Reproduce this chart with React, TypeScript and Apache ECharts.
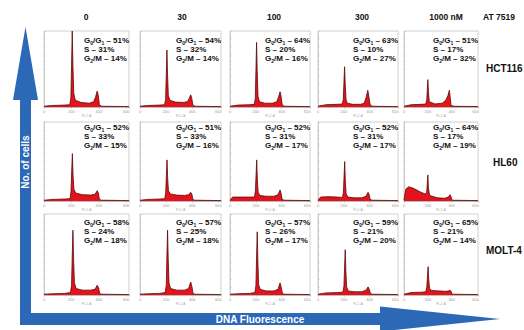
import React, { useEffect, useRef } from "react";
import * as echarts from "echarts";

// ---- data ----
const concentrations = ["0", "30", "100", "300", "1000 nM"];
const cellLines = ["HCT116", "HL60", "MOLT-4"];
const xTicks = [0, 200, 400, 600];

// [G0/G1 %, S %, G2/M %] per cell line, per concentration
const hct116Pct = [[51, 31, 14], [54, 32, 14], [64, 20, 16], [63, 10, 27], [51, 17, 32]];
const hl60Pct = [[52, 33, 15], [51, 33, 16], [52, 31, 17], [52, 31, 17], [64, 17, 19]];
const molt4Pct = [[58, 24, 18], [57, 25, 18], [57, 26, 17], [59, 21, 20], [65, 21, 14]];

// histograms: [DNA channel, relative cell count]
const hct116_0 = [[0,0.01],[60,0.02],[150,0.025],[188,0.03],[196,0.12],[201,0.55],[206,1.0],[211,0.55],[217,0.18],[228,0.09],[270,0.06],[330,0.05],[362,0.07],[376,0.13],[388,0.21],[396,0.15],[404,0.03],[420,0.01],[620,0.005]];
const hct116_30 = [[0,0.01],[60,0.02],[150,0.025],[188,0.03],[196,0.1],[201,0.42],[206,0.75],[211,0.42],[217,0.15],[228,0.09],[270,0.065],[330,0.06],[362,0.07],[376,0.11],[388,0.16],[396,0.12],[404,0.03],[420,0.01],[620,0.005]];
const hct116_100 = [[0,0.01],[60,0.025],[150,0.03],[188,0.035],[196,0.11],[201,0.48],[206,0.85],[211,0.46],[217,0.14],[228,0.07],[270,0.05],[330,0.05],[362,0.07],[376,0.13],[388,0.2],[396,0.14],[404,0.03],[420,0.01],[620,0.005]];
const hct116_300 = [[0,0.01],[60,0.03],[150,0.035],[188,0.04],[196,0.1],[201,0.32],[206,0.53],[211,0.3],[217,0.1],[228,0.05],[270,0.035],[330,0.035],[358,0.05],[372,0.12],[386,0.22],[395,0.13],[404,0.03],[420,0.01],[620,0.005]];
const hct116_1000 = [[0,0.01],[60,0.03],[150,0.035],[183,0.04],[191,0.1],[196,0.26],[200,0.36],[205,0.2],[212,0.07],[260,0.04],[320,0.05],[350,0.09],[368,0.15],[380,0.22],[387,0.13],[394,0.02],[420,0.01],[620,0.005]];

const hl60_0 = [[0,0.01],[60,0.02],[150,0.025],[190,0.03],[197,0.12],[202,0.38],[207,0.6],[212,0.32],[218,0.15],[232,0.1],[280,0.08],[340,0.075],[372,0.085],[388,0.13],[397,0.1],[404,0.02],[420,0.01],[620,0.005]];
const hl60_30 = [[0,0.01],[60,0.02],[150,0.025],[190,0.03],[197,0.11],[202,0.33],[207,0.52],[212,0.28],[218,0.13],[232,0.09],[280,0.075],[340,0.07],[372,0.08],[388,0.11],[397,0.09],[404,0.02],[420,0.01],[620,0.005]];
const hl60_100 = [[0,0.01],[20,0.05],[80,0.05],[150,0.05],[190,0.05],[197,0.13],[202,0.33],[207,0.52],[212,0.27],[218,0.11],[232,0.07],[280,0.06],[340,0.06],[372,0.08],[388,0.14],[397,0.09],[404,0.02],[420,0.01],[620,0.005]];
const hl60_300 = [[0,0.01],[20,0.05],[80,0.055],[150,0.05],[190,0.045],[197,0.11],[202,0.31],[207,0.5],[212,0.24],[218,0.09],[232,0.05],[280,0.04],[340,0.04],[372,0.06],[388,0.11],[397,0.08],[404,0.02],[420,0.01],[620,0.005]];
const hl60_1000 = [[0,0.01],[15,0.15],[40,0.18],[80,0.16],[130,0.12],[175,0.09],[190,0.1],[196,0.24],[200,0.33],[205,0.16],[215,0.07],[280,0.04],[340,0.035],[372,0.05],[386,0.08],[395,0.05],[403,0.01],[620,0.005]];

const molt4_0 = [[0,0.01],[60,0.015],[150,0.02],[193,0.03],[201,0.12],[206,0.48],[211,0.8],[216,0.44],[222,0.15],[234,0.08],[280,0.06],[340,0.06],[372,0.07],[388,0.12],[398,0.09],[406,0.02],[420,0.01],[620,0.005]];
const molt4_30 = [[0,0.01],[60,0.015],[150,0.02],[193,0.03],[201,0.12],[206,0.48],[211,0.8],[216,0.44],[222,0.15],[234,0.08],[280,0.06],[340,0.06],[372,0.08],[388,0.16],[398,0.1],[406,0.02],[420,0.01],[620,0.005]];
const molt4_100 = [[0,0.01],[60,0.015],[150,0.02],[193,0.03],[201,0.12],[206,0.47],[211,0.78],[216,0.42],[222,0.13],[234,0.07],[280,0.05],[340,0.05],[372,0.07],[388,0.15],[398,0.09],[406,0.02],[420,0.01],[620,0.005]];
const molt4_300 = [[0,0.01],[60,0.025],[150,0.03],[193,0.035],[201,0.11],[206,0.34],[211,0.56],[216,0.3],[222,0.1],[234,0.05],[280,0.04],[340,0.04],[372,0.06],[388,0.1],[398,0.07],[406,0.02],[420,0.01],[620,0.005]];
const molt4_1000 = [[0,0.01],[60,0.03],[150,0.035],[183,0.04],[191,0.1],[197,0.24],[202,0.35],[207,0.2],[214,0.08],[232,0.055],[300,0.05],[350,0.045],[372,0.05],[386,0.06],[395,0.045],[403,0.01],[620,0.005]];

const histograms = [
  [hct116_0, hct116_30, hct116_100, hct116_300, hct116_1000],
  [hl60_0, hl60_30, hl60_100, hl60_300, hl60_1000],
  [molt4_0, molt4_30, molt4_100, molt4_300, molt4_1000],
];
const percents = [hct116Pct, hl60Pct, molt4Pct];

// ---- layout ----
const COLS = [
  { l: 44, r: 129 },
  { l: 140, r: 221 },
  { l: 230, r: 310 },
  { l: 318, r: 398 },
  { l: 404, r: 478 },
];
const ROWS = [
  { t: 31, b: 107 },
  { t: 122, b: 201 },
  { t: 214, b: 295 },
];
const TEXT_OFF = [5, 1, 4];
const HEADER_X = [86, 182, 274, 362, 446];
const ROW_LABEL = [
  { x: 486, y: 68 },
  { x: 493, y: 162 },
  { x: 486, y: 250 },
];
const BLUE = "#2b68b5";
const FONT = "'Liberation Sans', Arial, sans-serif";

export default function App() {
  const ref = useRef<HTMLDivElement>(null);

  useEffect(() => {
    if (!ref.current) return;
    const chart = echarts.init(ref.current, null, { renderer: "svg" });

    const grid: any[] = [];
    const xAxis: any[] = [];
    const yAxis: any[] = [];
    const series: any[] = [];
    const graphic: any[] = [];

    // arrows
    graphic.push({
      type: "rect",
      shape: { x: 20, y: 99, width: 11, height: 226 },
      style: { fill: BLUE },
      silent: true,
    });
    graphic.push({
      type: "polygon",
      shape: { points: [[13, 100], [38, 100], [25.5, 27]] },
      style: { fill: BLUE },
    });
    graphic.push({
      type: "rect",
      shape: { x: 20, y: 313, width: 362, height: 12 },
      style: { fill: BLUE },
    });
    graphic.push({
      type: "polygon",
      shape: { points: [[380, 306.5], [500, 319], [380, 331.5]] },
      style: { fill: BLUE },
    });
    graphic.push({
      type: "text",
      x: 25.5,
      y: 162,
      rotation: Math.PI / 2,
      style: {
        text: "No. of cells",
        fill: "#fff",
        font: `bold 10px ${FONT}`,
        align: "center",
        verticalAlign: "middle",
      },
    });
    graphic.push({
      type: "text",
      x: 260,
      y: 319.5,
      style: {
        text: "DNA Fluorescence",
        fill: "#fff",
        font: `bold 10px ${FONT}`,
        align: "center",
        verticalAlign: "middle",
      },
    });

    // headers
    concentrations.forEach((c, i) => {
      graphic.push({
        type: "text",
        x: HEADER_X[i],
        y: 17,
        style: {
          text: c,
          fill: "#111",
          font: `bold 8.5px ${FONT}`,
          align: "center",
          verticalAlign: "middle",
        },
      });
    });
    graphic.push({
      type: "text",
      x: 499,
      y: 17,
      style: {
        text: "AT 7519",
        fill: "#111",
        font: `bold 8.5px ${FONT}`,
        align: "center",
        verticalAlign: "middle",
      },
    });
    cellLines.forEach((n, r) => {
      graphic.push({
        type: "text",
        x: ROW_LABEL[r].x,
        y: ROW_LABEL[r].y,
        style: {
          text: n,
          fill: "#111",
          font: `bold 10px ${FONT}`,
          align: "left",
          verticalAlign: "middle",
        },
      });
    });

    ROWS.forEach((row, r) => {
      COLS.forEach((col, c) => {
        const idx = grid.length;
        grid.push({
          left: col.l,
          top: row.t,
          width: col.r - col.l,
          height: row.b - row.t,
          show: true,
          backgroundColor: "#fff",
          borderColor: "#cfcfcf",
          borderWidth: 1,
        });
        xAxis.push({
          type: "value",
          gridIndex: idx,
          min: 0,
          max: 620,
          interval: 200,
          axisLine: { show: true, lineStyle: { color: "#b0b0b0", width: 0.8 } },
          axisTick: { show: true, length: 1.5, lineStyle: { color: "#b0b0b0" } },
          axisLabel: {
            fontSize: 4,
            color: "#999",
            margin: 2,
            formatter: (v: number) => (xTicks.includes(v) ? String(v) : ""),
          },
          name: "FL2-A",
          nameLocation: "middle",
          nameGap: 7,
          nameTextStyle: { fontSize: 3.5, color: "#aaa" },
          splitLine: { show: false },
        });
        yAxis.push({
          type: "value",
          gridIndex: idx,
          min: 0,
          max: 1,
          interval: 0.1,
          axisLine: { show: true, lineStyle: { color: "#c8c8c8", width: 0.8 } },
          axisTick: { show: true, inside: true, length: 1.5, lineStyle: { color: "#c8c8c8" } },
          axisLabel: { show: false },
          splitLine: { show: false },
        });
        series.push({
          type: "line",
          xAxisIndex: idx,
          yAxisIndex: idx,
          data: histograms[r][c],
          symbol: "none",
          showSymbol: false,
          smooth: false,
          clip: true,
          lineStyle: { color: "#5a0a0a", width: 0.8 },
          areaStyle: { color: "#e3121b", opacity: 1 },
          z: 3,
        });
        const p = percents[r][c];
        graphic.push({
          type: "text",
          x: col.r - 45,
          y: row.t + TEXT_OFF[r],
          z: 10,
          style: {
            text:
              `{n|G}{s|0}{n|/G}{s|1}{n| – ${p[0]}%}\n` +
              `{n|S – ${p[1]}%}\n` +
              `{n|G}{s|2}{n|/M – ${p[2]}%}`,
            align: "left",
            verticalAlign: "top",
            rich: {
              n: { font: `bold 8px ${FONT}`, fill: "#111", lineHeight: 9 },
              s: { font: `bold 5px ${FONT}`, fill: "#111", lineHeight: 4, verticalAlign: "bottom" },
            },
          },
        });
      });
    });

    chart.setOption({
      animation: false,
      backgroundColor: "#fff",
      grid,
      xAxis,
      yAxis,
      series,
      graphic,
    });

    return () => chart.dispose();
  }, []);

  return (
    <div
      ref={ref}
      style={{ position: "fixed", left: 0, top: 0, width: 524, height: 330, background: "#fff" }}
    />
  );
}
